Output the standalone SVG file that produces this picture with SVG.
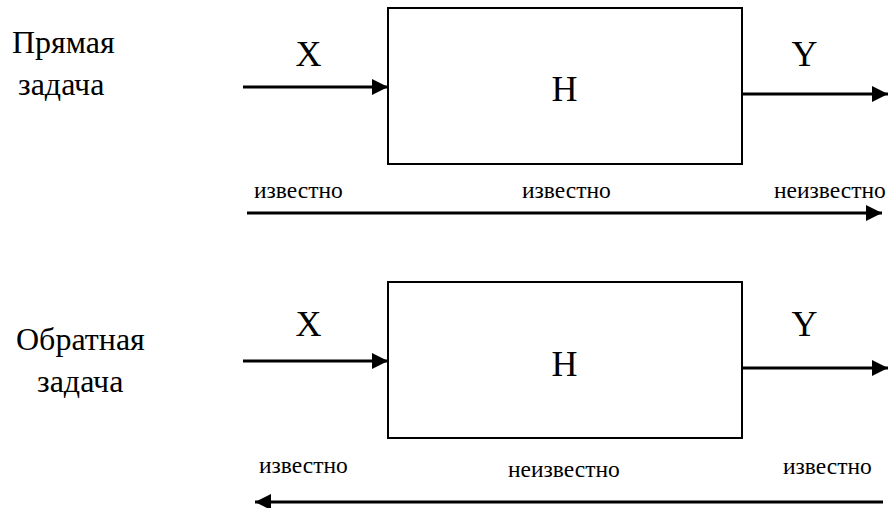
<svg xmlns="http://www.w3.org/2000/svg" width="889" height="508" viewBox="0 0 889 508">
  <style>
    text { font-family: "Liberation Serif", "Times New Roman", serif; fill: #000; }
    .title { font-size: 32px; }
    .var { font-size: 36px; }
    .note { font-size: 23.5px; }
    .box { fill: #fff; stroke: #000; stroke-width: 2; }
    .wire { stroke: #000; stroke-width: 3; fill: none; }
  </style>
  <defs>
    <marker id="head" viewBox="0 0 16 16" refX="16" refY="8" markerUnits="userSpaceOnUse" markerWidth="16" markerHeight="16" orient="auto-start-reverse">
      <path d="M0,0 L16,8 L0,16 Z" fill="#000"/>
    </marker>
  </defs>

  <!-- direct problem -->
  <g id="direct-label">
    <text class="title" x="12" y="53">Прямая</text>
    <text class="title" x="18" y="95">задача</text>
  </g>
  <g id="direct-system">
    <rect class="box" x="388" y="8" width="354" height="156"/>
    <text class="var" x="564.5" y="101" text-anchor="middle">H</text>
  </g>
  <g id="direct-io">
    <text class="var" x="308.5" y="66" text-anchor="middle">X</text>
    <text class="var" x="804.5" y="66" text-anchor="middle">Y</text>
  </g>
  <g id="direct-notes">
    <text class="note" x="254" y="198">известно</text>
    <text class="note" x="522" y="198">известно</text>
    <text class="note" x="774" y="198">неизвестно</text>
  </g>

  <!-- inverse problem -->
  <g id="inverse-label">
    <text class="title" x="16" y="350">Обратная</text>
    <text class="title" x="37" y="392">задача</text>
  </g>
  <g id="inverse-system">
    <rect class="box" x="388" y="282" width="354" height="156"/>
    <text class="var" x="564.5" y="376" text-anchor="middle">H</text>
  </g>
  <g id="inverse-io">
    <text class="var" x="308.5" y="336" text-anchor="middle">X</text>
    <text class="var" x="804.5" y="336" text-anchor="middle">Y</text>
  </g>
  <g id="inverse-notes">
    <text class="note" x="259" y="473">известно</text>
    <text class="note" x="508" y="477">неизвестно</text>
    <text class="note" x="783" y="474">известно</text>
  </g>

  <g id="connectors">
    <line class="wire" x1="243" y1="87" x2="388" y2="87" marker-end="url(#head)"/>
    <line class="wire" x1="742" y1="94" x2="888" y2="94" marker-end="url(#head)"/>
    <line class="wire" x1="247" y1="213" x2="882" y2="213" marker-end="url(#head)"/>
    <line class="wire" x1="243" y1="361" x2="388" y2="361" marker-end="url(#head)"/>
    <line class="wire" x1="742" y1="368" x2="888" y2="368" marker-end="url(#head)"/>
    <line class="wire" x1="255" y1="502" x2="883" y2="502" marker-start="url(#head)"/>
  </g>
</svg>
